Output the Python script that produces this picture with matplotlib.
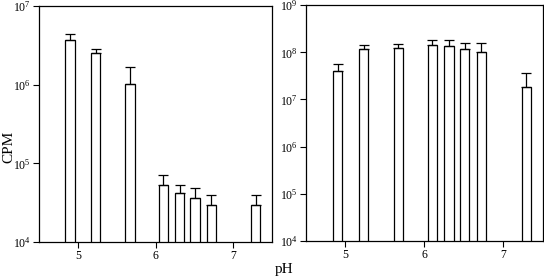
import numpy as np
import matplotlib
matplotlib.use("Agg")
import matplotlib.pyplot as plt

plt.rcParams['font.family'] = ['Liberation Serif', 'DejaVu Serif']
plt.rcParams['mathtext.fontset'] = 'stix'

# положения столбцов по pH (одинаковые для обеих панелей)
ph = [4.9, 5.23, 5.67, 6.1, 6.31, 6.51, 6.72, 7.29]

# левая панель: значения и верх планок погрешностей
left_cpm = [3.67e6, 2.51e6, 1.02e6, 5.25e4, 4.2e4, 3.63e4, 2.95e4, 2.95e4]
left_top = [4.4e6, 2.82e6, 1.68e6, 7.1e4, 5.3e4, 4.8e4, 4.0e4, 4.0e4]

# правая панель
right_cpm = [4.08e7, 1.2e8, 1.26e8, 1.44e8, 1.35e8, 1.18e8, 1.0e8, 1.8e7]
right_top = [5.6e7, 1.46e8, 1.53e8, 1.83e8, 1.81e8, 1.58e8, 1.56e8, 3.66e7]

fig = plt.figure(figsize=(5.44, 2.78), dpi=100)
ax1 = fig.add_axes([0.0717, 0.1295, 0.4283, 0.8485])
ax2 = fig.add_axes([0.5625, 0.134, 0.4355, 0.847])


def draw(ax, vals, tops, ylim):
    vals = np.array(vals)
    err = np.array(tops) - vals
    ax.bar(ph, vals, width=0.12, color='white', edgecolor='black',
           linewidth=0.9, bottom=0)
    ax.errorbar(ph, vals, yerr=[np.zeros_like(err), err], fmt='none',
                ecolor='black', elinewidth=0.9, capsize=3.5, capthick=0.9)
    ax.set_yscale('log')
    ax.set_ylim(*ylim)
    ax.set_xlim(4.5, 7.5)
    ax.set_xticks([5, 6, 7])
    ax.minorticks_off()
    ax.tick_params(direction='out', length=4, width=0.8, labelsize=8.5, pad=2)
    for s in ax.spines.values():
        s.set_linewidth(0.9)


draw(ax1, left_cpm, left_top, (1e4, 1e7))
draw(ax2, right_cpm, right_top, (1e4, 1e9))
ax1.set_yticks([1e4, 1e5, 1e6, 1e7])
ax2.set_yticks([1e4, 1e5, 1e6, 1e7, 1e8, 1e9])
ax1.minorticks_off()
ax2.minorticks_off()

fig.text(0.016, 0.47, 'CPM', rotation=90, ha='center', va='center', fontsize=11)
fig.text(0.523, 0.03, 'pH', ha='center', va='center', fontsize=11)

plt.savefig('out.png', dpi=100)
